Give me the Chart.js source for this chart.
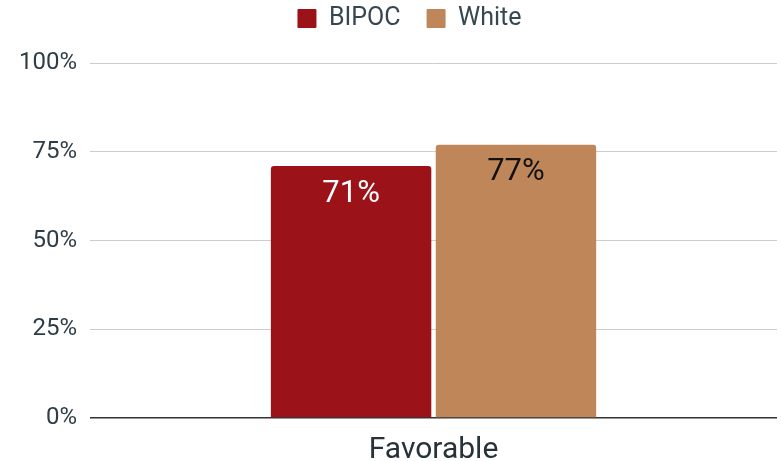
<!DOCTYPE html>
<html>
<head>
<meta charset="utf-8">
<script src="https://cdn.jsdelivr.net/npm/chart.js@4"></script>
<style>
html,body{margin:0;padding:0;background:#fff;}
canvas{display:block;}
</style>
</head>
<body>
<canvas id="c" width="781" height="461"></canvas>
<script>
const categories = ["Favorable"];
const seriesNames = ["BIPOC", "White"];
const bipocValues = [71];
const whiteValues = [77];
const yTicks = [0, 25, 50, 75, 100];

const colors = ["#9B1219", "#BF8759"];
const labelColors = ["#ffffff", "#111111"];

const valueLabels = {
  id: 'valueLabels',
  afterDatasetsDraw(chart) {
    const ctx = chart.ctx;
    ctx.save();
    ctx.font = '31px Roboto';
    ctx.textAlign = 'center';
    ctx.textBaseline = 'middle';
    chart.data.datasets.forEach((ds, i) => {
      const meta = chart.getDatasetMeta(i);
      meta.data.forEach((bar, j) => {
        ctx.fillStyle = labelColors[i];
        ctx.fillText(ds.data[j] + '%', bar.x, bar.y + 28);
      });
    });
    ctx.restore();
  }
};

const legendTweak = {
  id: 'legendTweak',
  beforeInit(chart) {
    const lg = chart.legend;
    const origFit = lg.fit;
    lg.fit = function () {
      origFit.call(this);
      this.height = 63;
    };
    const origDraw = lg.draw;
    lg.draw = function () {
      const ctx = this.ctx;
      ctx.save();
      ctx.translate(18, -20);
      origDraw.call(this);
      ctx.restore();
    };
  }
};

new Chart(document.getElementById('c'), {
  type: 'bar',
  data: {
    labels: categories,
    datasets: [
      { label: seriesNames[0], data: bipocValues, backgroundColor: colors[0], borderRadius: {topLeft: 3, topRight: 3}, borderSkipped: 'bottom' },
      { label: seriesNames[1], data: whiteValues, backgroundColor: colors[1], borderRadius: {topLeft: 3, topRight: 3}, borderSkipped: 'bottom' }
    ]
  },
  options: {
    responsive: false,
    animation: false,
    devicePixelRatio: 1,
    layout: { padding: { left: 6, right: 4, top: 0, bottom: -22 } },
    datasets: { bar: { categoryPercentage: 0.48, barPercentage: 0.973 } },
    plugins: {
      legend: {
        position: 'top',
        labels: {
          font: { family: 'Roboto', size: 25 },
          color: '#37474F',
          boxWidth: 19,
          boxHeight: 19,
          padding: 26,
          useBorderRadius: true,
          borderRadius: 1
        }
      },
      tooltip: { enabled: false }
    },
    scales: {
      y: {
        min: 0, max: 100,
        afterBuildTicks(axis) { axis.ticks = yTicks.map(v => ({ value: v })); },
        ticks: {
          callback: v => v + '%',
          font: { family: 'Roboto', size: 24 },
          color: '#2F3E46',
          padding: 13
        },
        grid: {
          drawTicks: false,
          color: ctx => ctx.tick && ctx.tick.value === 0 ? '#333333' : '#CCCCCC',
          lineWidth: ctx => ctx.tick && ctx.tick.value === 0 ? 1.5 : 1
        },
        border: { display: false }
      },
      x: {
        ticks: {
          font: { family: 'Roboto', size: 30, lineHeight: 0.9 },
          color: '#263238',
          padding: 19
        },
        grid: { display: false, drawTicks: false },
        border: { display: false }
      }
    }
  },
  plugins: [valueLabels, legendTweak]
});
</script>
</body>
</html>
